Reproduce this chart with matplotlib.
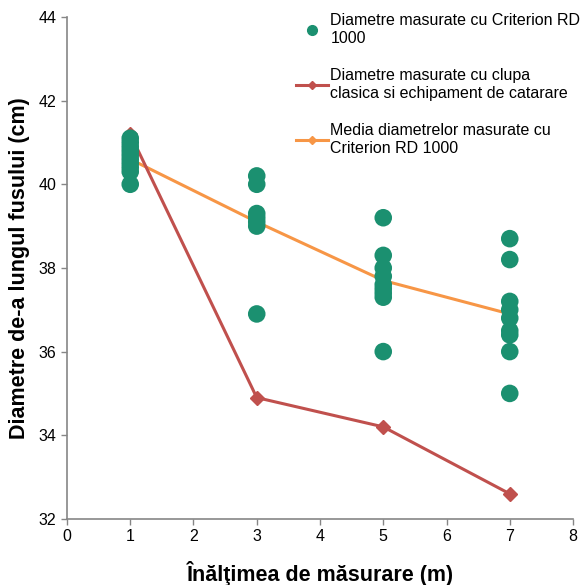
import matplotlib.pyplot as plt
from matplotlib.lines import Line2D

plt.rcParams.update({
    "font.family": ["Liberation Sans", "DejaVu Sans"],
    "font.size": 10,
})

# measured diameters with Criterion RD 1000, per height
heights_rd = [1] * 10 + [3] * 7 + [5] * 9 + [7] * 9
diam_rd = [
    41.1, 41.0, 40.9, 40.8, 40.7, 40.6, 40.5, 40.4, 40.3, 40.0,
    40.2, 40.0, 39.3, 39.2, 39.1, 39.0, 36.9,
    39.2, 38.3, 38.0, 37.8, 37.6, 37.5, 37.4, 37.3, 36.0,
    38.7, 38.2, 37.2, 37.0, 36.8, 36.5, 36.4, 36.0, 35.0,
]

heights = [1, 3, 5, 7]
diam_clupa = [41.2, 34.9, 34.2, 32.6]
diam_mean = [40.6, 39.1, 37.7, 36.9]

labels = [
    "Diametre masurate cu Criterion RD\n1000",
    "Diametre masurate cu clupa\nclasica si echipament de catarare",
    "Media diametrelor masurate cu\nCriterion RD 1000",
]

GREEN = "#1b9070"
RED = "#c0504d"
ORANGE = "#f79646"
GRAY = "#868686"

fig = plt.figure(figsize=(5.85, 5.85), dpi=100)
ax = fig.add_axes([0.1145, 0.113, 0.865, 0.858])

ax.plot(heights, diam_mean, color=ORANGE, lw=2.2, marker="D", ms=6, zorder=2)
ax.plot(heights, diam_clupa, color=RED, lw=2.2, marker="D", ms=7, zorder=2)
ax.scatter(heights_rd, diam_rd, s=160, color=GREEN, edgecolors="none", zorder=3)

ax.set_xlim(0, 8)
ax.set_ylim(32, 44)
ax.set_xticks(range(0, 9))
ax.set_yticks(range(32, 45, 2))
for side in ("top", "right"):
    ax.spines[side].set_visible(False)
for side in ("left", "bottom"):
    ax.spines[side].set_color(GRAY)
    ax.spines[side].set_linewidth(1.2)
ax.tick_params(colors=GRAY, labelcolor="black", labelsize=11.5, length=4, width=1)

ax.set_xlabel("Înălţimea de măsurare (m)", fontsize=15.5, fontweight="bold", labelpad=12)
ax.set_ylabel("Diametre de-a lungul fusului (cm)", fontsize=15.5, fontweight="bold", labelpad=6)

handles = [
    Line2D([], [], ls="none", marker="o", ms=7, color=GREEN),
    Line2D([], [], color=RED, lw=2.2, marker="D", ms=4),
    Line2D([], [], color=ORANGE, lw=2.2, marker="D", ms=4),
]
ax.legend(handles, labels, loc="upper left", bbox_to_anchor=(0.44, 1.02),
          frameon=False, fontsize=11.5, handlelength=2.0, handletextpad=0.15,
          labelspacing=1.42, borderaxespad=0)

fig.savefig("out.png", dpi=100)
